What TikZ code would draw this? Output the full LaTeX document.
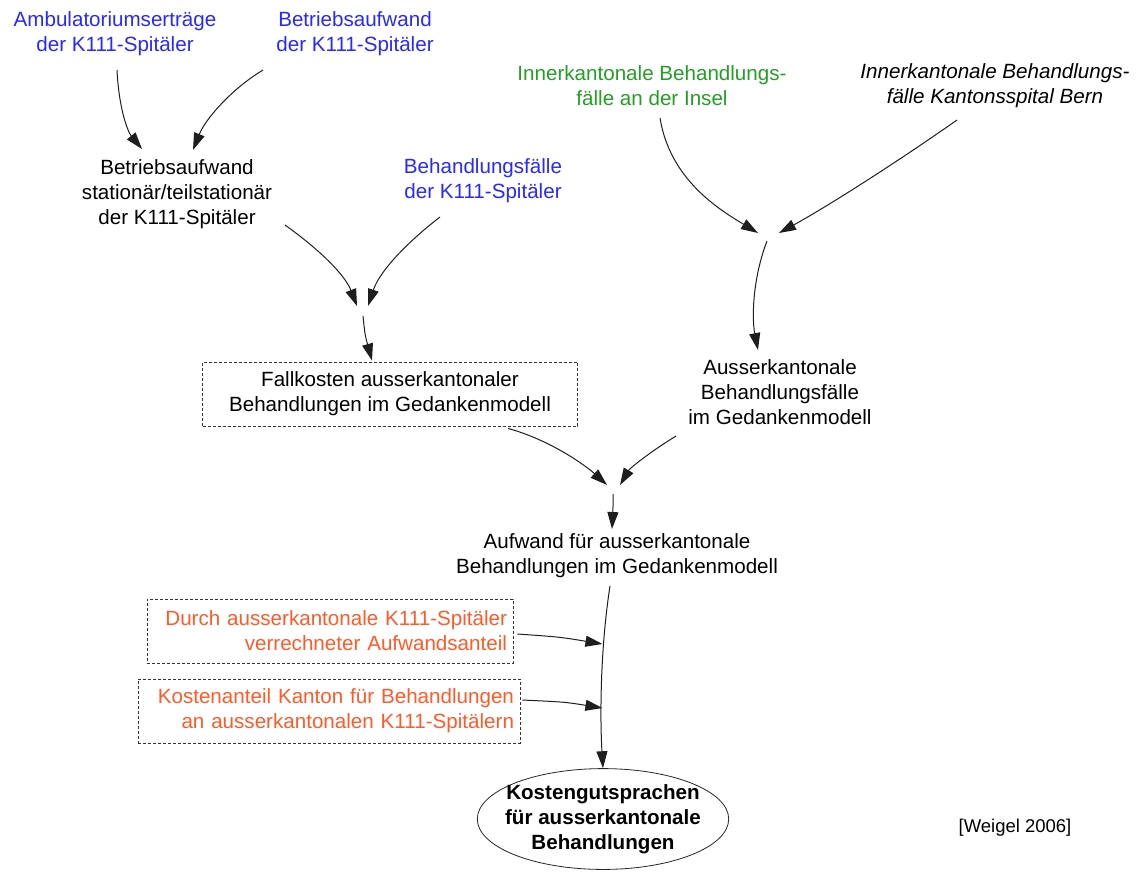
\documentclass[tikz,border=0pt]{standalone}
\usepackage{fontspec}
\setmainfont{Liberation Sans}
\usetikzlibrary{arrows.meta,shapes.geometric,calc}
\definecolor{srcblue}{RGB}{40,40,255}
\definecolor{srcgreen}{RGB}{34,160,34}
\definecolor{srcorange}{RGB}{255,90,40}
\definecolor{wire}{RGB}{30,30,30}
\begin{document}
\begin{tikzpicture}[x=1pt,y=-1pt,
  lbl/.style={align=center,inner sep=0pt,font=\fontsize{20.6}{25}\selectfont},
  dbox/.style={lbl,draw=black!80,line width=0.8pt,dash pattern=on 3pt off 2pt,
    minimum height=64pt},
  rbox/.style={dbox,align=right,text=srcorange,inner xsep=6pt},
  flow/.style={draw=wire,line width=1pt,-{Triangle[length=17pt,width=11pt]}}]
\useasboundingbox (0,0) rectangle (1139,873);

% source figures
\node[lbl,text=srcblue] (amb) at (115,34) {Ambulatoriumserträge\\der K111-Spitäler};
\node[lbl,text=srcblue] (baufw) at (355,34) {Betriebsaufwand\\der K111-Spitäler};
\node[lbl] (bstat) at (177,194) {Betriebsaufwand\\stationär/teilstationär\\der K111-Spitäler};
\node[lbl,text=srcblue] (bfall) at (483,181) {Behandlungsfälle\\der K111-Spitäler};
\node[lbl,text=srcgreen] (insel) at (652,86) {Innerkantonale Behandlungs-\\fälle an der Insel};
\node[lbl,font=\fontsize{20.6}{25}\selectfont\itshape] (ksb) at (995,86) {Innerkantonale Behandlungs-\\fälle Kantonsspital Bern};

% derived figures
\node[dbox,minimum width=375pt] (fallk) at (390,394) {Fallkosten ausserkantonaler\\Behandlungen im Gedankenmodell};
\node[lbl] (ausfall) at (780,392) {Ausserkantonale\\Behandlungsfälle\\im Gedankenmodell};
\node[lbl] (aufw) at (617,556) {Aufwand für ausserkantonale\\Behandlungen im Gedankenmodell};
\node[rbox,minimum width=366pt,text width=354pt] (verr) at (330,631) {Durch ausserkantonale K111-Spitäler\\verrechneter Aufwandsanteil};
\node[rbox,minimum width=382pt,text width=370pt] (kant) at (329,711) {Kostenanteil Kanton für Behandlungen\\an ausserkantonalen K111-Spitälern};
\node[ellipse,draw=black!85,line width=0.8pt,inner xsep=-9pt,inner ysep=1pt,
  align=center,font=\fontsize{20.6}{25}\selectfont\bfseries] (kgs) at (603,819)
  {Kostengutsprachen\\für ausserkantonale\\Behandlungen};
\node[font=\fontsize{18.5}{22}\selectfont,inner sep=0pt] (ref) at (1015,828) {[Weigel 2006]};

% junctions where flows meet
\coordinate (j1) at (363,311);
\coordinate (j2) at (768,237);
\coordinate (j3) at (614,489);

% connectors
\draw[flow] ($(amb)+(2,36)$) .. controls (119,110) and (128,132) .. ($(bstat)+(-35,-45)$);
\draw[flow] ($(baufw)+(-92,36)$) .. controls (230,90) and (205,120) .. ($(bstat)+(16,-44)$);

\draw[flow] ($(bstat)+(108,31)$) .. controls (320,250) and (345,275) .. ($(j1)+(-6,-5)$);
\draw[flow] ($(bfall)+(-43,36)$) .. controls (410,240) and (380,270) .. ($(j1)+(5,-5)$);
\draw[flow] ($(j1)+(0,5)$) .. controls (365,335) .. ($(fallk.north)+(-18,-1)$);

\draw[flow] ($(insel)+(8,32)$) .. controls (670,180) and (720,210) .. ($(j2)+(-10,-4)$);
\draw[flow] ($(ksb)+(-38,34)$) .. controls (900,160) and (830,205) .. ($(j2)+(11,-4)$);
\draw[flow] ($(j2)+(-1,4)$) .. controls (752,280) and (752,320) .. ($(ausfall)+(-22,-42)$);

\draw[flow] ($(fallk.south)+(118,2)$) .. controls (550,440) and (585,465) .. ($(j3)+(-7,-4)$);
\draw[flow] ($(ausfall)+(-104,44)$) .. controls (650,452) and (630,468) .. ($(j3)+(6,-4)$);
\draw[flow] ($(j3)+(-1,5)$) .. controls (613,510) .. ($(aufw)+(-5,-27)$);

\draw[flow] ($(aufw)+(-7,30)$) .. controls (600,650) and (600,720) .. (kgs.north);
\draw[flow] ($(verr.east)+(4,3)$) .. controls (560,637) .. ($(verr.east)+(89,13)$);
\draw[flow] ($(kant.east)+(2,-11)$) .. controls (565,702) .. ($(kant.east)+(82,-3)$);
\end{tikzpicture}
\end{document}
